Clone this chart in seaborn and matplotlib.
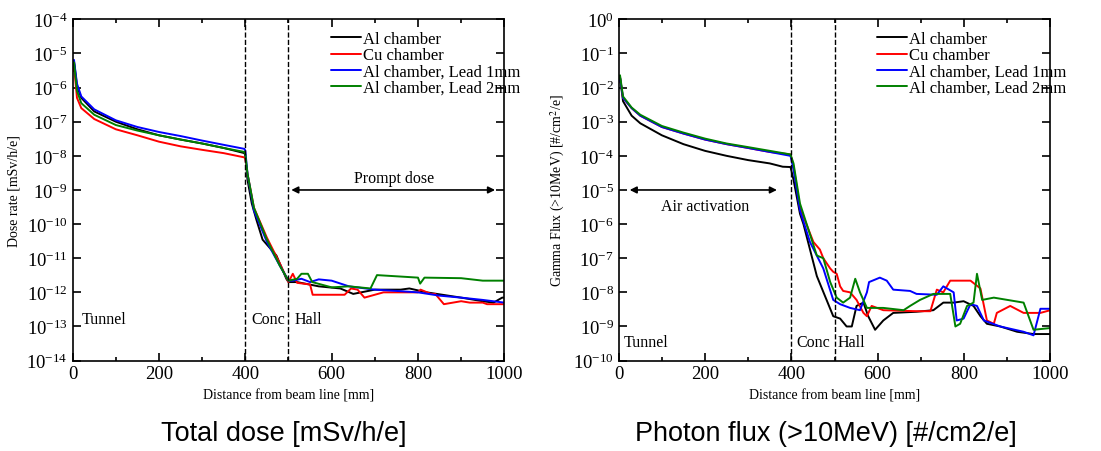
import numpy as np
import pandas as pd
import matplotlib
matplotlib.use("Agg")
import matplotlib.pyplot as plt
import seaborn as sns

#%% data: dose rate [mSv/h/e]
dose_al_x = [0, 3, 10, 20, 50, 100, 150, 200, 250, 300, 350, 398, 400, 405, 415, 426, 440, 472, 495, 500, 520, 570, 620, 650, 700, 760, 780, 820, 870, 900, 950, 975, 995, 1000]
dose_al_y = [4e-6, 6e-6, 1.1e-6, 5e-7, 2e-7, 1e-7, 6e-8, 4e-8, 3e-8, 2.3e-8, 1.7e-8, 1.2e-8, 1e-8, 2e-9, 4e-10, 1.3e-10, 3.5e-11, 1.2e-11, 2.5e-12, 2e-12, 2e-12, 1.5e-12, 1.3e-12, 9e-13, 1.2e-12, 1.2e-12, 1.3e-12, 1e-12, 8e-13, 7e-13, 5.5e-13, 5e-13, 7e-13, 7e-13]

dose_cu_x = [0, 3, 10, 20, 50, 100, 150, 200, 250, 300, 350, 398, 400, 405, 420, 450, 480, 500, 510, 520, 550, 556, 630, 645, 660, 676, 720, 800, 806, 830, 840, 860, 900, 920, 950, 960, 1000]
dose_cu_y = [3e-6, 4.5e-6, 5e-7, 2.5e-7, 1.2e-7, 6e-8, 4e-8, 2.6e-8, 1.9e-8, 1.5e-8, 1.2e-8, 9e-9, 8e-9, 3e-9, 3e-10, 4e-11, 7e-12, 2e-12, 3.5e-12, 1.9e-12, 1.7e-12, 8.5e-13, 8.5e-13, 1.3e-12, 1.2e-12, 7e-13, 1e-12, 1e-12, 1.2e-12, 9e-13, 9e-13, 4.5e-13, 5.5e-13, 5e-13, 5e-13, 4.5e-13, 4.5e-13]

dose_pb1_x = [0, 3, 10, 20, 50, 100, 150, 200, 250, 300, 350, 398, 400, 405, 420, 450, 480, 500, 510, 530, 550, 570, 600, 640, 700, 750, 800, 850, 900, 950, 1000]
dose_pb1_y = [5e-6, 6.5e-6, 1.3e-6, 5.5e-7, 2.3e-7, 1.1e-7, 7e-8, 5e-8, 3.8e-8, 2.8e-8, 2.1e-8, 1.6e-8, 1.4e-8, 3e-9, 2.5e-10, 3e-11, 6e-12, 2.2e-12, 2.2e-12, 2.5e-12, 2e-12, 2.4e-12, 2.2e-12, 1.5e-12, 1.2e-12, 1.1e-12, 1e-12, 8e-13, 7e-13, 6e-13, 5e-13]

dose_pb2_x = [0, 3, 10, 20, 50, 100, 150, 200, 250, 300, 350, 398, 400, 405, 420, 450, 480, 500, 520, 530, 545, 555, 600, 640, 690, 705, 780, 800, 805, 815, 900, 950, 1000]
dose_pb2_y = [4e-6, 5.5e-6, 8e-7, 3.5e-7, 1.6e-7, 8e-8, 5.5e-8, 4e-8, 3e-8, 2.3e-8, 1.7e-8, 1.3e-8, 1.1e-8, 3e-9, 3e-10, 3.5e-11, 6e-12, 2.2e-12, 2.5e-12, 3.5e-12, 3.5e-12, 2e-12, 1.4e-12, 1.5e-12, 1.3e-12, 3.2e-12, 2.8e-12, 2.7e-12, 1.8e-12, 2.7e-12, 2.6e-12, 2.2e-12, 2.2e-12]

#%% data: gamma flux >10MeV [#/cm2/e]
flux_al_x = [0, 3, 10, 30, 50, 100, 150, 200, 250, 300, 350, 380, 398, 405, 420, 428, 459, 497, 513, 528, 540, 551, 567, 578, 594, 613, 636, 690, 729, 752, 776, 799, 822, 838, 853, 884, 923, 961, 1000]
flux_al_y = [1.5e-2, 2e-2, 4e-3, 1.5e-3, 9e-4, 4e-4, 2.2e-4, 1.4e-4, 1e-4, 7.5e-5, 6e-5, 4.8e-5, 4.7e-5, 2e-5, 2e-6, 1e-6, 3e-8, 2e-9, 1.7e-9, 1e-9, 1e-9, 4e-9, 5e-9, 2e-9, 8e-10, 1.5e-9, 2.5e-9, 2.7e-9, 3e-9, 5e-9, 5e-9, 5.5e-9, 4e-9, 2e-9, 1.2e-9, 1e-9, 7e-10, 6e-10, 6e-10]

flux_cu_x = [0, 3, 10, 30, 50, 100, 150, 200, 250, 300, 350, 398, 405, 420, 451, 466, 474, 490, 497, 505, 513, 520, 536, 551, 567, 575, 586, 613, 690, 722, 737, 752, 768, 815, 838, 853, 869, 876, 907, 938, 977, 1000]
flux_cu_y = [1.5e-2, 2e-2, 5e-3, 2.5e-3, 1.5e-3, 7e-4, 4.5e-4, 3e-4, 2.2e-4, 1.7e-4, 1.3e-4, 1.1e-4, 5e-5, 3e-6, 3e-7, 1.8e-7, 1e-7, 5e-8, 4e-8, 3.5e-8, 1.5e-8, 1.1e-8, 1e-8, 6e-9, 2.5e-9, 2e-9, 4e-9, 3e-9, 2.8e-9, 2.8e-9, 1.2e-8, 1e-8, 2.2e-8, 2.2e-8, 1.3e-8, 1.5e-9, 1.2e-9, 2.5e-9, 4e-9, 2.5e-9, 2.5e-9, 3e-9]

flux_pb1_x = [0, 3, 10, 30, 50, 100, 150, 200, 250, 300, 350, 398, 405, 420, 443, 474, 497, 513, 536, 559, 575, 580, 605, 621, 636, 675, 690, 737, 752, 776, 783, 799, 815, 830, 846, 884, 938, 961, 977, 1000]
flux_pb1_y = [1.5e-2, 2e-2, 5e-3, 2.5e-3, 1.5e-3, 7e-4, 4.5e-4, 3e-4, 2.2e-4, 1.7e-4, 1.3e-4, 1e-4, 4e-5, 2.5e-6, 3e-7, 5e-8, 6e-9, 4.5e-9, 3.5e-9, 3e-9, 1e-8, 2e-8, 2.7e-8, 2.2e-8, 1.2e-8, 1.1e-8, 9e-9, 8.5e-9, 1.5e-8, 1e-8, 1.5e-9, 1.7e-9, 4.5e-9, 4e-9, 1.5e-9, 1e-9, 7e-10, 5.5e-10, 3.3e-9, 3.3e-9]

flux_pb2_x = [0, 3, 10, 30, 50, 100, 150, 200, 250, 300, 350, 398, 405, 420, 459, 474, 490, 505, 520, 536, 548, 559, 575, 613, 660, 675, 698, 729, 768, 780, 791, 807, 822, 830, 842, 869, 938, 961, 1000]
flux_pb2_y = [1.8e-2, 2.3e-2, 5.5e-3, 2.6e-3, 1.6e-3, 7.5e-4, 4.8e-4, 3.2e-4, 2.3e-4, 1.8e-4, 1.4e-4, 1.1e-4, 6e-5, 4e-6, 1.2e-7, 1e-7, 2e-8, 7e-9, 5e-9, 7e-9, 2.5e-8, 1e-8, 3.5e-9, 3.5e-9, 3e-9, 4e-9, 6e-9, 9e-9, 9e-9, 1e-9, 1.2e-9, 4e-9, 5e-9, 3.5e-8, 6e-9, 7e-9, 5e-9, 8e-10, 9e-10]

labels = ["Al chamber", "Cu chamber", "Al chamber, Lead 1mm", "Al chamber, Lead 2mm"]
colors = ["black", "red", "blue", "green"]

#%% style
sns.set_style("ticks")
plt.rcParams["font.family"] = ["Liberation Serif", "DejaVu Serif"]
plt.rcParams["mathtext.fontset"] = "stix"
plt.rcParams["xtick.direction"] = "in"
plt.rcParams["ytick.direction"] = "in"
for key in ["text.color", "axes.labelcolor", "xtick.color", "ytick.color", "axes.edgecolor"]:
    plt.rcParams[key] = "black"


def draw(ax, series, ylim, ylabel):
    for (xs, ys), lab, col in zip(series, labels, colors):
        sns.lineplot(x=xs, y=ys, ax=ax, color=col, label=lab, linewidth=1.4)
    ax.set_yscale("log")
    ax.set_xlim(0, 1000)
    ax.set_ylim(*ylim)
    ax.set_xticks([0, 200, 400, 600, 800, 1000])
    ax.set_xticks([100, 300, 500, 700, 900], minor=True)
    ax.yaxis.set_major_locator(matplotlib.ticker.LogLocator(base=10, numticks=20))
    ax.yaxis.set_minor_locator(matplotlib.ticker.NullLocator())
    ax.tick_params(which="both", top=True, right=True, labelsize=13.5, width=1.2)
    ax.tick_params(which="major", length=6)
    ax.tick_params(which="minor", length=3)
    for sp in ax.spines.values():
        sp.set_linewidth(1.2)
    ax.axvline(400, color="black", ls="--", lw=1)
    ax.axvline(500, color="black", ls="--", lw=1)
    ax.set_xlabel("Distance from beam line [mm]", fontsize=10)
    ax.set_ylabel(ylabel, fontsize=10)
    ax.legend(loc="upper right", frameon=False, fontsize=12, handlelength=1.8,
              handletextpad=0.1, labelspacing=0.02, borderaxespad=0.3,
              bbox_to_anchor=(1.064, 1.0))


fig, (ax1, ax2) = plt.subplots(1, 2, figsize=(11.01, 4.52), dpi=100)
fig.subplots_adjust(left=0.066, right=0.954, top=0.955, bottom=0.2, wspace=0.265)

draw(ax1, [(dose_al_x, dose_al_y), (dose_cu_x, dose_cu_y),
           (dose_pb1_x, dose_pb1_y), (dose_pb2_x, dose_pb2_y)],
     (1e-14, 1e-4), "Dose rate [mSv/h/e]")
ax1.annotate("", xy=(500, 1e-9), xytext=(985, 1e-9),
             arrowprops=dict(arrowstyle="<|-|>", color="black", lw=1.2))
ax1.text(745, 2.3e-9, "Prompt dose", ha="center", va="center", fontsize=11.5)
ax1.text(20, 1.7e-13, "Tunnel", ha="left", va="center", fontsize=11.5)
ax1.text(414, 1.7e-13, "Conc", ha="left", va="center", fontsize=11.5)
ax1.text(514, 1.7e-13, "Hall", ha="left", va="center", fontsize=11.5)

draw(ax2, [(flux_al_x, flux_al_y), (flux_cu_x, flux_cu_y),
           (flux_pb1_x, flux_pb1_y), (flux_pb2_x, flux_pb2_y)],
     (1e-10, 1e0), "Gamma Flux (>10MeV) [#/cm$^2$/e]")
ax2.annotate("", xy=(19, 1e-5), xytext=(373, 1e-5),
             arrowprops=dict(arrowstyle="<|-|>", color="black", lw=1.2))
ax2.text(200, 3.3e-6, "Air activation", ha="center", va="center", fontsize=11.5)
ax2.text(12, 3.4e-10, "Tunnel", ha="left", va="center", fontsize=11.5)
ax2.text(411, 3.4e-10, "Conc", ha="left", va="center", fontsize=11.5)
ax2.text(508, 3.4e-10, "Hall", ha="left", va="center", fontsize=11.5)

fig.text(0.258, 0.012, "Total dose [mSv/h/e]", ha="center", va="bottom",
         fontsize=19.5, family=["Liberation Sans", "DejaVu Sans"])
fig.text(0.75, 0.012, "Photon flux (>10MeV) [#/cm2/e]", ha="center", va="bottom",
         fontsize=19.5, family=["Liberation Sans", "DejaVu Sans"])

plt.savefig("out.png", dpi=100)
